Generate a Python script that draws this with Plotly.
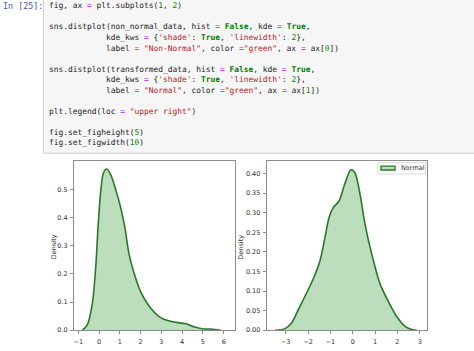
import plotly.graph_objects as go

W, H = 474, 351

# ---- data ----
nonnormal_x = [-0.80, -0.56, -0.32, -0.16, -0.05, 0.08, 0.21, 0.37, 0.56, 0.80, 1.04, 1.24,
               1.44, 1.69, 2.00, 2.49, 3.00, 3.61, 4.17, 4.57, 4.97, 5.38, 5.86]
nonnormal_y = [0.000, 0.020, 0.096, 0.225, 0.365, 0.494, 0.558, 0.572, 0.552, 0.499, 0.435, 0.365,
               0.271, 0.201, 0.137, 0.078, 0.043, 0.029, 0.023, 0.012, 0.005, 0.004, 0.000]

normal_x = [-3.48, -3.03, -2.73, -2.44, -2.14, -1.76, -1.46, -1.24, -1.06, -0.87, -0.61, -0.34,
            -0.08, 0.10, 0.33, 0.55, 0.85, 1.22, 1.60, 1.97, 2.34, 2.64, 2.87]
normal_y = [0.000, 0.004, 0.019, 0.052, 0.086, 0.132, 0.178, 0.237, 0.288, 0.313, 0.330, 0.376,
            0.410, 0.402, 0.347, 0.271, 0.195, 0.119, 0.073, 0.035, 0.010, 0.002, 0.000]

left_xticks = [-1, 0, 1, 2, 3, 4, 5, 6]
left_yticks = [0.0, 0.1, 0.2, 0.3, 0.4, 0.5]
right_xticks = [-3, -2, -1, 0, 1, 2, 3]
right_yticks = [0.00, 0.05, 0.10, 0.15, 0.20, 0.25, 0.30, 0.35, 0.40]
legend_label = "Normal"
prompt = "In [25]:"

# code lines as (text, kind) token lists
K, S, N, O, T = "kw", "str", "num", "op", "txt"
code_lines = [
    [("fig, ax ", T), ("=", O), (" plt.subplots(", T), ("1", N), (", ", T), ("2", N), (")", T)],
    [],
    [("sns.distplot(non_normal_data, hist ", T), ("=", O), (" ", T), ("False", K), (", kde ", T),
     ("=", O), (" ", T), ("True", K), (",", T)],
    [("\u00a0" * 12 + "kde_kws ", T), ("=", O), (" {", T), ("'shade'", S), (": ", T), ("True", K),
     (", ", T), ("'linewidth'", S), (": ", T), ("2", N), ("},", T)],
    [("\u00a0" * 12 + "label ", T), ("=", O), (" ", T), ('"Non-Normal"', S), (", color ", T), ("=", O),
     ('"green"', S), (", ax ", T), ("=", O), (" ax[", T), ("0", N), ("])", T)],
    [],
    [("sns.distplot(transformed_data, hist ", T), ("=", O), (" ", T), ("False", K), (", kde ", T),
     ("=", O), (" ", T), ("True", K), (",", T)],
    [("\u00a0" * 12 + "kde_kws ", T), ("=", O), (" {", T), ("'shade'", S), (": ", T), ("True", K),
     (", ", T), ("'linewidth'", S), (": ", T), ("2", N), ("},", T)],
    [("\u00a0" * 12 + "label ", T), ("=", O), (" ", T), ('"Normal"', S), (", color ", T), ("=", O),
     ('"green"', S), (", ax ", T), ("=", O), (" ax[", T), ("1", N), ("])", T)],
    [],
    [("plt.legend(loc ", T), ("=", O), (" ", T), ('"upper right"', S), (")", T)],
    [],
    [("fig.set_figheight(", T), ("5", N), (")", T)],
    [("fig.set_figwidth(", T), ("10", N), (")", T)],
]

colors = {K: "#008000", S: "#BA2121", N: "#008800", O: "#AA22FF", T: "#222222"}

LINE = "#2a772a"
FILL = "rgba(0,128,0,0.26)"
FRAME = "#8c8c8c"
TICKC = "#333333"
TICKFONT = 6.5


def px(x):
    return x / W


def py(y):
    return 1 - y / H


fig = go.Figure()

fig.add_trace(go.Scatter(x=nonnormal_x, y=nonnormal_y, mode="lines", fill="tozeroy",
                         line=dict(color=LINE, width=1.6, shape="spline", smoothing=0.8),
                         fillcolor=FILL, name="Non-Normal", showlegend=False,
                         xaxis="x", yaxis="y"))
fig.add_trace(go.Scatter(x=normal_x, y=normal_y, mode="lines", fill="tozeroy",
                         line=dict(color=LINE, width=1.6, shape="spline", smoothing=0.8),
                         fillcolor=FILL, name=legend_label, showlegend=False,
                         xaxis="x2", yaxis="y2"))

axis_common = dict(showgrid=False, zeroline=False, showline=True, mirror=True,
                   linecolor=FRAME, linewidth=1, ticks="outside", ticklen=3,
                   tickcolor=FRAME, tickfont=dict(family="DejaVu Sans", size=TICKFONT, color=TICKC),
                   fixedrange=True)

ydom = [py(334), py(163.3)]
fig.update_layout(
    width=W, height=H, margin=dict(l=0, r=0, t=0, b=0),
    paper_bgcolor="white", plot_bgcolor="white", showlegend=False,
    xaxis=dict(domain=[px(74), px(235)], range=[-1.207, 6.544], tickvals=left_xticks,
               anchor="y", ticklabelstandoff=2, **axis_common),
    yaxis=dict(domain=ydom, range=[0, 0.599], tickvals=left_yticks,
               tickformat=".1f", anchor="x", ticklabelstandoff=1, **axis_common),
    xaxis2=dict(domain=[px(266.7), px(427.3)], range=[-3.851, 3.341], tickvals=right_xticks,
                anchor="y2", ticklabelstandoff=2, **axis_common),
    yaxis2=dict(domain=ydom, range=[0, 0.431], tickvals=right_yticks,
                tickformat=".2f", anchor="x2", ticklabelstandoff=1, **axis_common),
)

shapes = []
annotations = []

# code cell background
shapes.append(dict(type="rect", xref="paper", yref="paper",
                   x0=px(43.3), x1=px(474.5), y0=py(155), y1=py(-2),
                   fillcolor="#f6f6f6", line=dict(color="#cfcfcf", width=1), layer="below"))

annotations.append(dict(text=prompt, xref="paper", yref="paper", x=px(0.5), y=py(6),
                        xanchor="left", yanchor="middle", showarrow=False,
                        font=dict(family="DejaVu Sans Mono", size=8.4, color="#4a5a9a")))

for i, toks in enumerate(code_lines):
    if not toks:
        continue
    parts = []
    for t, k in toks:
        s = t.replace("<", "&lt;")
        if k == K:
            parts.append(f'<span style="color:{colors[k]}"><b>{s}</b></span>')
        else:
            parts.append(f'<span style="color:{colors[k]}">{s}</span>')
    annotations.append(dict(text="".join(parts), xref="paper", yref="paper",
                            x=px(46.5), y=py(6 + i * 10.65), xanchor="left", yanchor="middle",
                            showarrow=False,
                            font=dict(family="DejaVu Sans Mono", size=7.9, color="#222222")))

# y-axis labels
for xpos in (54, 241.5):
    annotations.append(dict(text="Density", xref="paper", yref="paper", x=px(xpos), y=py(250),
                            xanchor="center", yanchor="middle", textangle=-90, showarrow=False,
                            font=dict(family="DejaVu Sans", size=TICKFONT, color=TICKC)))

# legend (upper right of right axes)
shapes.append(dict(type="rect", xref="paper", yref="paper", x0=px(378), x1=px(425.5),
                   y0=py(176), y1=py(164.5), fillcolor="white",
                   line=dict(color="#d0d0d0", width=0.8)))
shapes.append(dict(type="rect", xref="paper", yref="paper", x0=px(381), x1=px(395),
                   y0=py(172), y1=py(168), fillcolor=FILL,
                   line=dict(color=LINE, width=1.4)))
annotations.append(dict(text=legend_label, xref="paper", yref="paper", x=px(399), y=py(170.2),
                        xanchor="left", yanchor="middle", showarrow=False,
                        font=dict(family="DejaVu Sans", size=TICKFONT, color=TICKC)))

fig.update_layout(shapes=shapes, annotations=annotations)
fig.write_html("out.html")
